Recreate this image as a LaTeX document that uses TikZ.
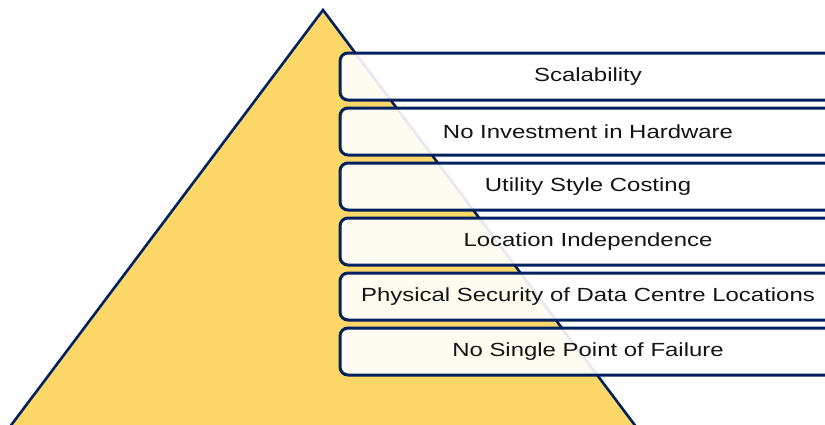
\documentclass[tikz,border=0pt]{standalone}
\usepackage{graphicx}
\usepackage{fontspec}
\setmainfont{Liberation Sans}
\definecolor{pyrfill}{RGB}{253,216,104}
\definecolor{navy}{RGB}{0,32,96}
\definecolor{txt}{RGB}{20,20,20}
\newcommand{\widetext}[1]{\scalebox{1.26}[1]{#1}}
\tikzset{
  pyr/.style={draw=navy, line width=2.6pt, fill=pyrfill, line join=miter},
  tier/.style={draw=navy, line width=3pt, fill=white, fill opacity=0.9, text opacity=1,
    rounded corners=8pt, minimum width=496pt, minimum height=47pt, inner sep=0pt,
    anchor=north west, text=txt, font=\fontsize{19pt}{21pt}\selectfont},
}
\begin{document}
\begin{tikzpicture}[x=1pt,y=-1pt]
\useasboundingbox (0,0) rectangle (825,424);
\clip (0,0) rectangle (825,424);
\fill[white] (0,0) rectangle (825,424);
\coordinate (apex) at (323,10);
\coordinate (bl2) at (-3,444);
\coordinate (br2) at (649,444);
\fill[pyrfill] (apex) -- (bl2) -- (br2) -- cycle;
\draw[navy, line width=2.6pt, line join=miter] (bl2) -- (apex) -- (br2);
\node[tier] (t1) at (338.5,51.5) {\widetext{Scalability}};
\node[tier] (t2) at (338.5,106.5) {\widetext{No Investment in Hardware}};
\node[tier] (t3) at (338.5,161.5) {\widetext{Utility Style Costing}};
\node[tier] (t4) at (338.5,216.5) {\widetext{Location Independence}};
\node[tier] (t5) at (338.5,271.5) {\widetext{Physical Security of Data Centre Locations}};
\node[tier] (t6) at (338.5,326.5) {\widetext{No Single Point of Failure}};
\end{tikzpicture}
\end{document}
